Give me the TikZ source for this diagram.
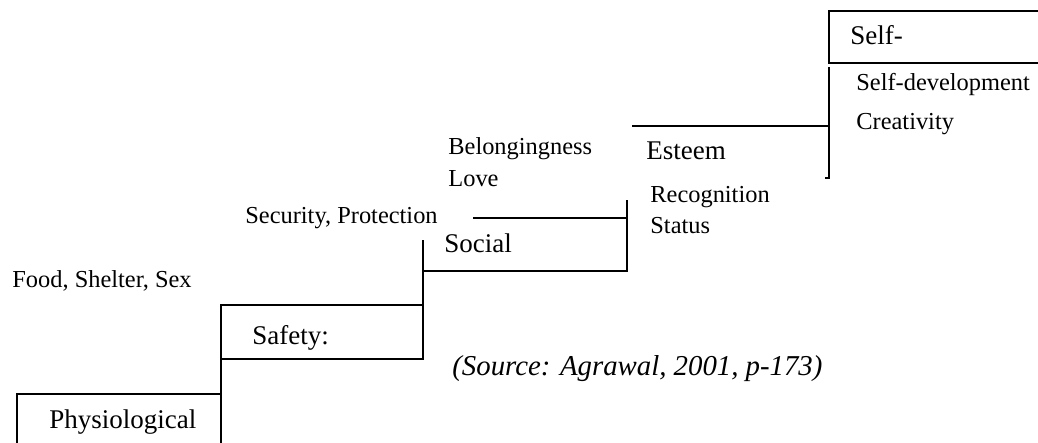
\documentclass[tikz,border=0pt]{standalone}
\usepackage{fontspec}
\setmainfont{Liberation Serif}
\usepackage{tikz}
\tikzset{
	lvl/.style={font=\fontsize{13.5}{16}\selectfont, inner sep=0pt, anchor=base west},
	need/.style={font=\fontsize{12.2}{14}\selectfont, inner sep=0pt, anchor=base west},
	stair/.style={black, line width=1pt}
}

\begin{document}
\begin{tikzpicture}[x=0.5pt, y=-0.5pt]
		\useasboundingbox (0,0) rectangle (1038,443);
		\draw[stair] (17,443) -- (17,394) -- (221,394);
		\draw[stair] (221,443) -- (221,305) -- (423,305) -- (423,359) -- (221,359);
		\draw[stair] (423,359) -- (423,240);
		\draw[stair] (423,271) -- (627,271) -- (627,200);
		\draw[stair] (473,218) -- (627,218);
		\draw[stair] (632,126) -- (829,126);
		\draw[stair] (829,67) -- (829,178) -- (825,178);
		\draw[stair] (1038,11) -- (829,11) -- (829,63) -- (1038,63);
		\node[lvl] (phys) at (49,428) {Physiological};
		\node[lvl] (safety) at (252,344) {Safety:};
		\node[lvl] (social) at (444,253) {Social};
		\node[lvl] (esteem) at (646,160) {Esteem};
		\node[lvl] (self) at (850,45) {Self-};
		\node[need] (food) at (12,287) {Food, Shelter, Sex};
		\node[need] (secur) at (245,224) {Security, Protection};
		\node[need] (belong) at (448,155) {Belongingness};
		\node[need] (love) at (448,187) {Love};
		\node[need] (recog) at (650,203) {Recognition};
		\node[need] (status) at (650,234) {Status};
		\node[need] (selfdev) at (856,91) {Self-development};
		\node[need] (creat) at (856,130) {Creativity};
		\node[need, font=\fontsize{14.4}{17}\selectfont\itshape] (source) at (452,375) {(Source: Agrawal, 2001, p-173)};
		\end{tikzpicture}
\end{document}
